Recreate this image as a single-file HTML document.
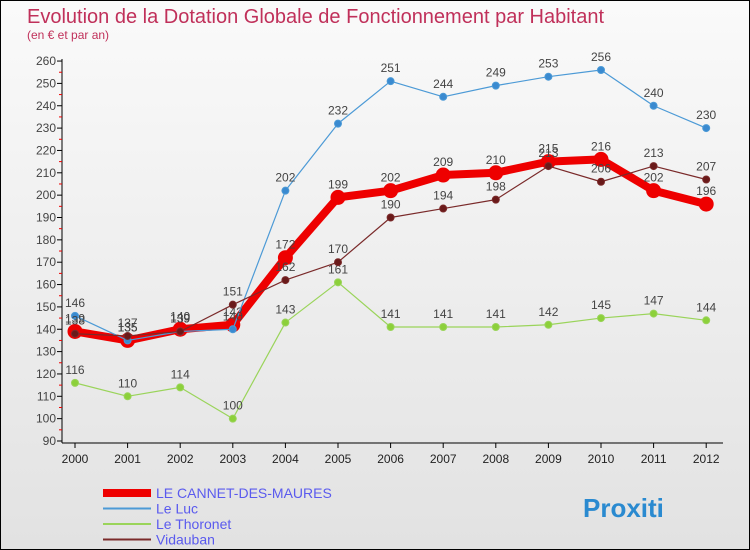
<!DOCTYPE html>
<html><head><meta charset="utf-8"><style>
body{margin:0;background:#fff}
#c{position:relative;width:748px;height:548px;border:1px solid #000;background:linear-gradient(#fafafa,#e2e2e2);overflow:hidden;font-family:"Liberation Sans",sans-serif}
svg text{font-family:"Liberation Sans",sans-serif}
</style></head><body>
<div id="c">
<svg id="s" width="748" height="548">
<text x="26" y="22" font-size="20" fill="#c0305a">Evolution de la Dotation Globale de Fonctionnement par Habitant</text>
<text x="26" y="38" font-size="12" fill="#c0305a">(en € et par an)</text>
</svg>
</div>
<script>
const years=[2000,2001,2002,2003,2004,2005,2006,2007,2008,2009,2010,2011,2012];
const cannet=[139,135,140,142,172,199,202,209,210,215,216,202,196];
const luc=[146,135,139,140,202,232,251,244,249,253,256,240,230];
const thoronet=[116,110,114,100,143,161,141,141,141,142,145,147,144];
const vidauban=[138,137,139,151,162,170,190,194,198,213,206,213,207];
const yTicks=[90,100,110,120,130,140,150,160,170,180,190,200,210,220,230,240,250,260];
const NS="http://www.w3.org/2000/svg";
const s=document.getElementById('s');
const X=i=>74+i*52.6;
const Y=v=>440-(v-90)*2.235;
function el(t,a,p){const e=document.createElementNS(NS,t);for(const k in a)e.setAttribute(k,a[k]);(p||s).appendChild(e);return e;}
// axes
let ax=el('line',{x1:61,y1:58,x2:61,y2:442,stroke:'#000'});


let ax2=el('line',{x1:61,y1:442,x2:722,y2:442,stroke:'#000'});


yTicks.forEach(v=>{
  el('line',{x1:56,y1:Y(v),x2:61,y2:Y(v),stroke:'#000'});
  if(v<260)el('line',{x1:58,y1:Y(v+5),x2:61,y2:Y(v+5),stroke:'#e00'});
  const t=el('text',{x:55,y:Y(v)+4,'text-anchor':'end','font-size':12,fill:'#444'});
  t.textContent=v;
  
  
});
years.forEach((yr,i)=>{
  el('line',{x1:X(i),y1:442,x2:X(i),y2:447,stroke:'#000'});
  const t=el('text',{x:X(i),y:462,'text-anchor':'middle','font-size':12,fill:'#222'});
  t.textContent=yr;
  
  
});
function series(d,color,w,r,dot,name){
  const g=el('g',{});
  
  
  el('polyline',{points:d.map((v,i)=>X(i)+','+Y(v)).join(' '),fill:'none',stroke:color,'stroke-width':w,'stroke-linejoin':'round'},g);
  d.forEach((v,i)=>{
    const c=el('circle',{cx:X(i),cy:Y(v),r:r,fill:dot,stroke:color,'stroke-width':1},g);
    
    
    const t=el('text',{x:X(i),y:Y(v)-9,'text-anchor':'middle','font-size':12,fill:'#444'},g);
    t.textContent=v;
  });
}
series(thoronet,'#9ad45a',1.2,3.5,'#8cd03a','series-le-thoronet');
series(cannet,'#ee0000',8,7,'#ee0000','series-le-cannet');
series(luc,'#4c9ad6',1.2,3.5,'#3a8ad0','series-le-luc');
series(vidauban,'#7a2a2a',1.2,3.5,'#6a1a1a','series-vidauban');
// legend
const leg=[['LE CANNET-DES-MAURES','#ee0000',8],['Le Luc','#4c9ad6',2],['Le Thoronet','#9ad45a',2],['Vidauban','#7a2a2a',2]];
leg.forEach((l,i)=>{
  const y=492+i*15.5;
  const ln=el('line',{x1:102,y1:y,x2:150,y2:y,stroke:l[1],'stroke-width':l[2]});
  
  
  const t=el('text',{x:155,y:y+5,'font-size':14,fill:'#5a5aee'});
  t.textContent=l[0];
  
  
});
const lg=el('text',{x:582,y:516,'font-size':26,'font-weight':'bold',fill:'#2a8ad0'});
lg.textContent='Proxiti';


</script>
</body></html>
